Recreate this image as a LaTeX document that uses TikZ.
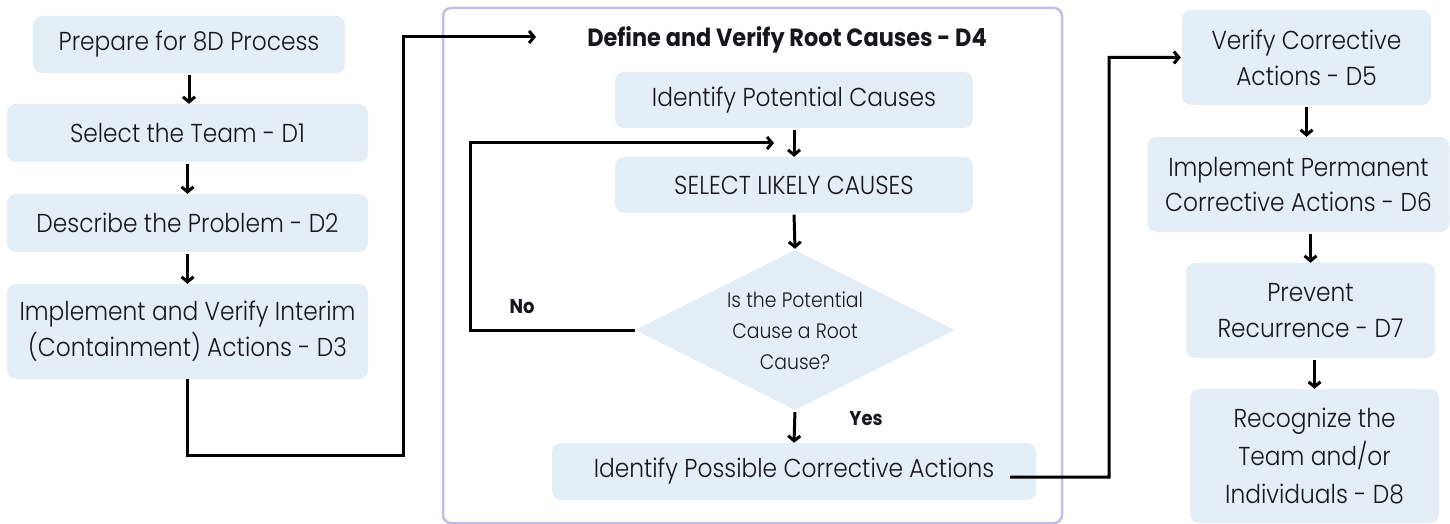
\documentclass[tikz,border=0pt]{standalone}
\usepackage{fontspec}
\setmainfont{Poppins}[UprightFont={* Light}, BoldFont={* Bold}, FakeStretch=0.9]
\usetikzlibrary{shapes.geometric,arrows.meta,calc}
\definecolor{boxblue}{RGB}{228,238,247}
\definecolor{lav}{RGB}{192,192,230}
\definecolor{ink}{RGB}{22,22,28}
\begin{document}
\begin{tikzpicture}[x=1bp,y=-1bp,
  box/.style={fill=boxblue, rounded corners=9bp, inner sep=0pt, align=center, text=ink,
              font=\fontsize{26}{36}\selectfont},
  conn/.style={line width=3bp, draw=black, -{Straight Barb[length=5bp,width=12bp]}},
  lbl/.style={font=\fontsize{20}{24}\selectfont\bfseries, text=ink, inner sep=0pt},
]
\useasboundingbox (0,0) rectangle (1450,524);

% container D4
\node[draw=lav, line width=2.5bp, rounded corners=8bp, minimum width=619bp, minimum height=515bp, inner sep=0pt] (D4) at (752.5,265.5) {};

% left column
\node[box, minimum width=312bp, minimum height=57bp] (A0) at (189,44.5) {Prepare for 8D Process};
\node[box, minimum width=361bp, minimum height=58bp] (A1) at (187.5,133) {Select the Team - D1};
\node[box, minimum width=361bp, minimum height=58bp] (A2) at (187.5,223) {Describe the Problem - D2};
\node[box, minimum width=361bp, minimum height=95bp] (A3) at (187.5,331.5) {Implement and Verify Interim\\(Containment) Actions - D3};

% middle column
\node[font=\fontsize{25}{30}\selectfont\bfseries, text=ink, inner sep=0pt, anchor=base] (title) at (787,47) {Define and Verify Root Causes - D4};
\node[box, minimum width=358bp, minimum height=56bp] (B0) at (794,100) {Identify Potential Causes};
\node[box, minimum width=358bp, minimum height=56bp] (B1) at (794,185) {SELECT LIKELY CAUSES};
\node[diamond, fill=boxblue, aspect=2, minimum width=320bp, minimum height=160bp, inner sep=0pt] (dec) at (795,330) {};
\node[font=\fontsize{21}{31}\selectfont, align=center, text=ink, inner sep=0pt] (dtext) at (795,331) {Is the Potential\\Cause a Root\\Cause?};
\node[box, minimum width=484bp, minimum height=57bp] (C) at (794,471.5) {Identify Possible Corrective Actions};
\node[lbl] (no) at (522,307) {No};
\node[lbl] (yes) at (866,419) {Yes};

% right column
\node[box, minimum width=249bp, minimum height=95bp] (D5) at (1306.5,57.5) {Verify Corrective\\Actions - D5};
\node[box, minimum width=302bp, minimum height=95bp] (D6) at (1298.5,184.5) {Implement Permanent\\Corrective Actions - D6};
\node[box, minimum width=249bp, minimum height=95bp] (D7) at (1310.5,310.5) {Prevent\\Recurrence - D7};
\node[box, minimum width=249bp, minimum height=134bp, font=\fontsize{26}{38}\selectfont] (D8) at (1314.5,456) {Recognize the\\Team and/or\\Individuals - D8};

% connectors left
\draw[conn, shorten <=1.5bp] (A0.south) -- (A0.south |- A1.north);
\draw[conn, shorten <=1.5bp] (A1.south) -- (A2.north);
\draw[conn, shorten <=1.5bp] (A2.south) -- (A3.north);
\coordinate (k1) at (187.5,455);
\coordinate (k2) at (403,455);
\coordinate (k3) at (403,37);
\coordinate (k4) at (536,37);
\draw[conn] (A3.south) -- (k1) -- (k2) -- (k3) -- (k4);

% connectors middle
\draw[conn, shorten <=1.5bp] (B0.south) -- (B1.north);
\draw[conn, shorten <=1.5bp, shorten >=1bp] (B1.south) -- (dec.north);
\coordinate (n1) at (470,330);
\coordinate (n2) at (470,143);
\coordinate (n3) at (774,143);
\draw[conn] (dec.west) -- (n1) -- (n2) -- (n3);
\draw[conn, shorten <=2bp] (dec.south) -- (C.north);
\coordinate (m1) at (1109,477);
\draw[conn, shorten >=1bp] ($(C.east)+(-26,5.5)$) -- (m1) |- (D5.west);

% connectors right
\draw[conn, shorten <=1.5bp] (D5.south) -- (D5.south |- D6.north);
\draw[conn, shorten <=1.5bp] (D7.north |- D6.south) -- (D7.north);
\draw[conn, shorten <=1.5bp] (D8.north |- D7.south) -- (D8.north);
\end{tikzpicture}
\end{document}
